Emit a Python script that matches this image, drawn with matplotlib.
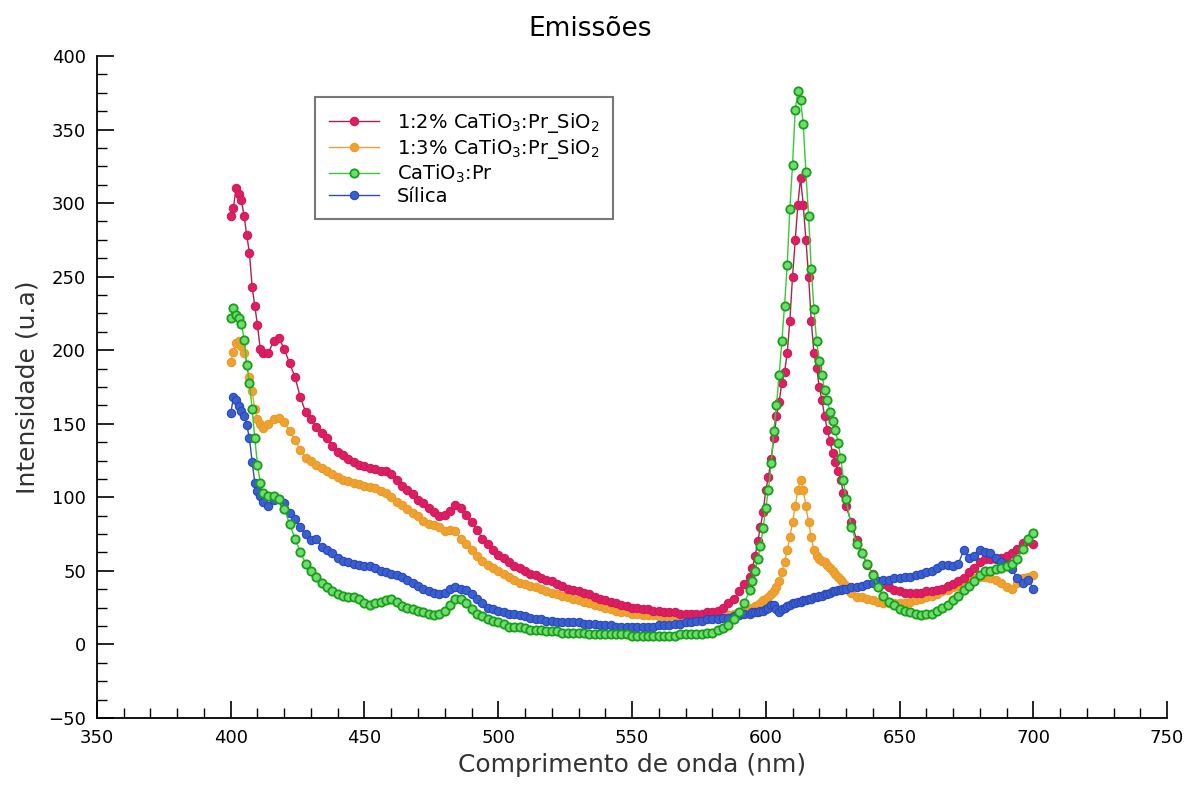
import numpy as np
import matplotlib
matplotlib.use("Agg")
import matplotlib.pyplot as plt
from matplotlib.ticker import MultipleLocator

# wavelength grid (nm): 1 nm near the sharp features, 2 nm elsewhere
wl = np.concatenate([np.arange(400, 413, 1), np.arange(414, 595, 2),
                     np.arange(595, 631, 1), np.arange(632, 701, 2)])

# 1:2% CaTiO3:Pr_SiO2
pink = [291, 297, 310, 306, 302, 291, 278, 266, 243, 230, 217, 201, 198,
        198, 206, 208, 201, 191, 182, 168, 158, 153, 148, 144, 140, 135, 131, 129, 126, 124, 122,
        121, 120, 119, 118, 118, 116, 112, 108, 105, 102, 98, 96, 93, 90, 87, 88, 91, 95, 93, 88,
        83, 78, 72, 68, 64, 61, 59, 56, 53, 52, 50, 48, 47, 45, 44, 43, 41, 40, 38, 37,
        36, 35, 34, 32, 31, 30, 29, 28, 27, 26, 25, 25, 24, 24, 23, 23, 22, 22, 22, 21,
        21, 21, 21, 21, 22, 22, 23, 25, 28, 31, 36, 41, 46,
        52, 60, 70, 80, 90, 105, 114, 126, 140, 155, 165, 178, 185, 198, 220, 250, 275, 299, 317,
        299, 275, 250, 220, 198, 188, 175, 166, 155, 146, 138, 130, 124, 118, 112, 103, 94,
        83, 71, 62, 54, 48, 43, 41, 39, 37, 36, 35, 35, 35, 35, 36, 36, 37, 38, 40, 41,
        43, 45, 49, 52, 56, 58, 58, 58, 59, 60, 62, 65, 69, 70, 68]

# 1:3% CaTiO3:Pr_SiO2
orange = [192, 199, 205, 206, 203, 198, 190, 182, 172, 160, 153, 150, 147,
          150, 153, 154, 151, 145, 139, 132, 127, 125, 122, 120, 118, 116, 114, 112, 111, 110, 109,
          108, 107, 106, 104, 103, 100, 97, 95, 92, 89, 87, 84, 82, 81, 80, 77, 78, 77, 72, 68,
          64, 60, 57, 54, 52, 50, 48, 46, 44, 42, 41, 40, 39, 38, 36, 35, 34, 33, 32, 31,
          30, 29, 28, 27, 26, 25, 24, 23, 22, 22, 21, 21, 20, 20, 20, 19, 19, 19, 19, 19,
          19, 19, 19, 19, 19, 19, 19, 20, 20, 21, 21, 22, 24,
          25, 26, 27, 28, 30, 31, 32, 34, 36, 39, 43, 49, 56, 64, 73, 83, 94, 105, 112,
          105, 94, 83, 73, 64, 60, 58, 57, 56, 54, 52, 50, 48, 46, 44, 42, 40,
          35, 32, 32, 31, 30, 29, 28, 28, 28, 28, 28, 29, 30, 31, 32, 33, 34, 36, 37, 39,
          40, 42, 44, 45, 46, 46, 45, 44, 42, 39, 38, 42, 45, 46, 47]

# CaTiO3:Pr
green = [222, 229, 224, 222, 218, 207, 190, 178, 160, 140, 122, 110, 103,
         101, 101, 99, 92, 82, 72, 63, 55, 50, 46, 42, 39, 36, 34, 33, 32, 32, 31,
         28, 27, 28, 29, 30, 31, 29, 26, 25, 24, 23, 22, 21, 20, 21, 23, 27, 31, 31, 28,
         24, 21, 19, 17, 16, 15, 14, 12, 12, 12, 11, 10, 10, 10, 9, 9, 9, 8, 8, 8,
         8, 8, 7, 7, 7, 7, 7, 7, 7, 7, 6, 6, 6, 6, 6, 6, 6, 6, 6, 7,
         7, 7, 7, 7, 8, 8, 10, 11, 13, 17, 22, 28, 37,
         43, 50, 58, 67, 79, 93, 105, 123, 145, 163, 183, 206, 230, 258, 296, 326, 363, 376, 370,
         354, 321, 291, 255, 228, 206, 193, 183, 173, 166, 158, 152, 146, 137, 127, 112, 99,
         80, 68, 62, 55, 47, 39, 33, 29, 27, 24, 23, 22, 21, 20, 21, 21, 23, 25, 27, 30,
         33, 37, 40, 43, 47, 50, 50, 51, 52, 53, 55, 58, 65, 72, 76]

# Silica
blue = [157, 168, 166, 162, 159, 155, 149, 140, 124, 110, 104, 101, 97,
        94, 98, 99, 96, 89, 85, 80, 75, 71, 72, 66, 64, 62, 59, 57, 56, 55, 54,
        53, 53, 52, 50, 49, 48, 47, 46, 44, 42, 40, 38, 36, 35, 34, 35, 38, 39, 38, 37,
        34, 31, 28, 25, 24, 23, 22, 21, 21, 20, 19, 18, 17, 17, 16, 16, 15, 15, 15, 15,
        15, 14, 14, 14, 13, 13, 13, 12, 12, 12, 12, 12, 12, 12, 12, 13, 13, 13, 14, 14,
        15, 15, 16, 16, 17, 17, 17, 18, 18, 19, 20, 21, 21,
        22, 22, 22, 23, 23, 24, 25, 27, 27, 24, 22, 24, 25, 26, 27, 28, 28, 29, 29,
        30, 30, 31, 31, 32, 32, 33, 33, 34, 34, 35, 36, 36, 37, 37, 38, 38,
        39, 39, 40, 41, 42, 43, 44, 44, 45, 45, 46, 46, 47, 48, 49, 50, 52, 54, 54, 53,
        55, 64, 59, 60, 64, 63, 62, 59, 56, 54, 51, 45, 42, 44, 38]

labels = ["1:2% CaTiO$_3$:Pr_SiO$_2$", "1:3% CaTiO$_3$:Pr_SiO$_2$", "CaTiO$_3$:Pr", "Sílica"]

fig = plt.figure(figsize=(11.87, 7.93), dpi=100)
ax = fig.add_axes([0.0817, 0.0946, 0.9015, 0.8348])

# drawn back to front like the original
ax.plot(wl, orange, color="#e8a13a", lw=1, marker="o", ms=6, mfc="#f0a22e", mec="#e89a2a", mew=0.8, label=labels[1])
ax.plot(wl, pink, color="#b0204e", lw=1, marker="o", ms=6, mfc="#dd1e62", mec="#d0195a", mew=0.8, label=labels[0])
ax.plot(wl, blue, color="#2f4fb0", lw=1, marker="o", ms=6, mfc="#3a5fd0", mec="#2a48b8", mew=0.8, label=labels[3])
ax.plot(wl, green, color="#33cc33", lw=1, marker="o", ms=6, mfc="#6fdc6f", mec="#1a9e1a", mew=1.3, label=labels[2])

ax.set_xlim(350, 750)
ax.set_ylim(-50, 400)
ax.xaxis.set_major_locator(MultipleLocator(50))
ax.xaxis.set_minor_locator(MultipleLocator(10))
ax.yaxis.set_major_locator(MultipleLocator(50))
ax.yaxis.set_minor_locator(MultipleLocator(12.5))
ax.tick_params(which="major", direction="in", length=12, width=1.2, labelsize=13, pad=8)
ax.tick_params(which="minor", direction="in", length=7, width=1.0)
for s in ["top", "right"]:
    ax.spines[s].set_visible(False)
for s in ["left", "bottom"]:
    ax.spines[s].set_linewidth(1.3)

ax.set_xlabel("Comprimento de onda (nm)", fontsize=18, color="#333333", labelpad=4)
ax.set_ylabel("Intensidade (u.a)", fontsize=18, color="#333333", labelpad=6)
fig.text(0.497, 0.964, "Emissões", ha="center", va="center", fontsize=19)

h, l = ax.get_legend_handles_labels()
order = [l.index(x) for x in labels]
leg = ax.legend([h[i] for i in order], [l[i] for i in order], loc="upper left",
                bbox_to_anchor=(0.2037, 0.938), borderaxespad=0, fontsize=14, frameon=True,
                fancybox=False, handlelength=2.6, labelspacing=0.1, borderpad=0.7,
                handletextpad=0.9)
leg.get_frame().set_edgecolor("#555555")
leg.get_frame().set_linewidth(1.5)

fig.savefig("out.png", dpi=100)
